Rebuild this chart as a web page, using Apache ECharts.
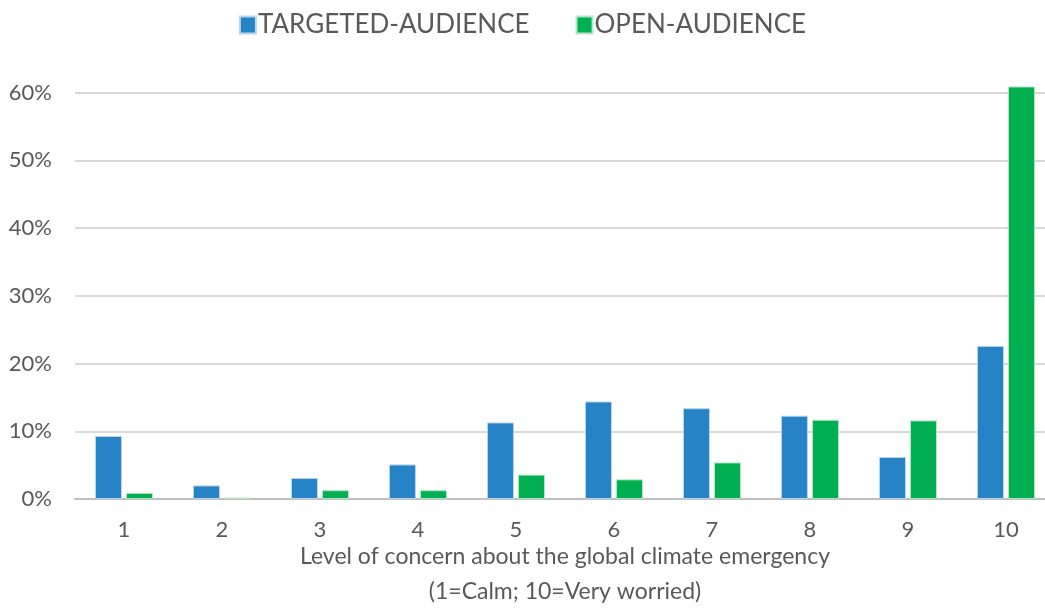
<!DOCTYPE html>
<html>
<head>
<meta charset="utf-8">
<script src="https://cdn.jsdelivr.net/npm/echarts@6/dist/echarts.min.js"></script>
<style>html,body{margin:0;padding:0;background:#fff}#c{width:1045px;height:608px}</style>
</head>
<body>
<div id="c"></div>
<script>
var categories = ['1','2','3','4','5','6','7','8','9','10'];
var targeted = [9.3, 2.0, 3.1, 5.1, 11.3, 14.4, 13.4, 12.3, 6.2, 22.6];
var openAud = [0.9, 0.2, 1.3, 1.3, 3.6, 2.9, 5.4, 11.7, 11.6, 60.9];
var seriesNames = ['TARGETED-AUDIENCE', 'OPEN-AUDIENCE'];
var xTitle = 'Level of concern about the global climate emergency\n(1=Calm; 10=Very worried)';

var font = 'Lato, "Open Sans", sans-serif';
var chart = echarts.init(document.getElementById('c'));
chart.setOption({
  animation: false,
  legend: {
    top: 7, left: 'center',
    itemWidth: 16, itemHeight: 17, itemGap: 46,
    icon: 'rect',
    textStyle: { fontFamily: font, fontSize: 26, color: '#595959', padding: [0,0,0,-3] }
  },
  grid: { left: 75, right: -10, top: 79, bottom: 109, outerBoundsMode: 'none', containLabel: false },
  xAxis: {
    type: 'category', data: categories,
    axisTick: { show: false },
    axisLine: { lineStyle: { color: '#bfbfbf', width: 2 } },
    axisLabel: { fontFamily: font, fontSize: 22, color: '#595959', margin: 20 },
    name: xTitle, nameLocation: 'middle', nameGap: 40, nameMoveOverlap: false,
    nameTextStyle: { fontFamily: font, fontSize: 23, color: '#595959', lineHeight: 35 }
  },
  yAxis: {
    type: 'value', min: 0, max: 62, interval: 10,
    axisLabel: { formatter: '{value}%', fontFamily: font, fontSize: 22, color: '#595959', margin: 23, showMaxLabel: false },
    splitLine: { showMaxLine: false, lineStyle: { color: '#d9d9d9', width: 2 } },
    axisLine: { show: false }, axisTick: { show: false }
  },
  series: [
    { name: seriesNames[0], type: 'bar', data: targeted, barWidth: 27, barGap: '15%',
      itemStyle: { color: '#2683c6', borderColor: '#b9d6ee', borderWidth: 1 } },
    { name: seriesNames[1], type: 'bar', data: openAud, barWidth: 27,
      itemStyle: { color: '#00b050', borderColor: '#b3e6c8', borderWidth: 1 } }
  ]
});
</script>
</body>
</html>
